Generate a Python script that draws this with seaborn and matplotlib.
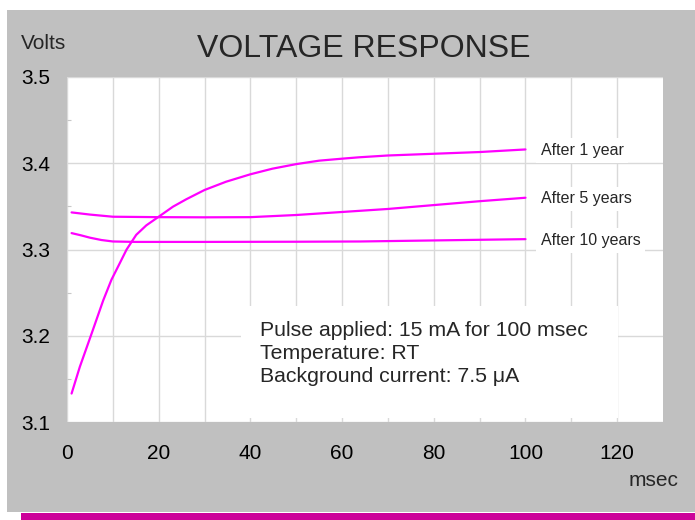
import matplotlib
matplotlib.use("Agg")
import matplotlib.pyplot as plt
import matplotlib.transforms as mtransforms
from matplotlib.patches import Rectangle
from matplotlib.ticker import FixedLocator, FuncFormatter
import numpy as np
import pandas as pd
import seaborn as sns

# ---------------- data ----------------
series_names = ["After 1 year", "After 5 years", "After 10 years"]

x_1yr = [1, 2.8, 5.4, 7.9, 9.7, 11.5, 13.0, 15.1, 17.3, 20, 23.1, 26, 30, 34.7, 40, 44.8,
         50, 55, 60, 63.7, 70, 80, 90, 100]
v_1yr = [3.133, 3.164, 3.203, 3.241, 3.265, 3.284, 3.300, 3.317, 3.328, 3.338, 3.3496, 3.3582,
         3.369, 3.3786, 3.3872, 3.3937, 3.399, 3.403, 3.4053, 3.4069, 3.409, 3.411, 3.413, 3.416]

x_5yr = [1, 5, 10, 20, 30, 40, 50, 60, 70, 80, 90, 100]
v_5yr = [3.343, 3.3405, 3.338, 3.3375, 3.3373, 3.3375, 3.340, 3.3435, 3.347, 3.3515, 3.356, 3.360]

x_10yr = [1, 3, 5, 7.5, 10, 15, 30, 50, 64, 80, 100]
v_10yr = [3.319, 3.3165, 3.3137, 3.311, 3.3093, 3.3088, 3.3088, 3.309, 3.3093, 3.3105, 3.312]

x_ticks = [0, 10, 20, 30, 40, 50, 60, 70, 80, 90, 100, 110, 120]
y_ticks = [3.1, 3.2, 3.3, 3.4, 3.5]
y_minor = [3.15, 3.25, 3.35, 3.45]

title = "VOLTAGE RESPONSE"
y_label = "Volts"
x_label = "msec"
note_lines = ["Pulse applied: 15 mA for 100 msec",
              "Temperature: RT",
              "Background current: 7.5 \u03bcA"]

df = pd.concat([
    pd.DataFrame({"msec": x_1yr, "volts": v_1yr, "series": series_names[0]}),
    pd.DataFrame({"msec": x_5yr, "volts": v_5yr, "series": series_names[1]}),
    pd.DataFrame({"msec": x_10yr, "volts": v_10yr, "series": series_names[2]}),
], ignore_index=True)
last_vals = {series_names[0]: v_1yr[-1], series_names[1]: v_5yr[-1], series_names[2]: v_10yr[-1]}

# ---------------- style ----------------
sns.set_style("white")
plt.rcParams["font.family"] = ["Liberation Sans", "DejaVu Sans"]

W, H = 695, 520
GRAY = "#C0C0C0"
MAGENTA = "#FF00FF"
GRID = "#D9D9D9"

fig = plt.figure(figsize=(W / 100, H / 100), dpi=100, facecolor="white")
fig.add_artist(Rectangle((7 / W, (H - 511.7) / H), 1 - 7 / W, (511.7 - 10) / H,
                         transform=fig.transFigure, fc=GRAY, ec="none", zorder=0))
fig.add_artist(Rectangle((21 / W, 0), 1 - 21 / W, 7.3 / H,
                         transform=fig.transFigure, fc="#CC0099", ec="none", zorder=0))

ax = fig.add_axes([67 / W, (H - 422) / H, (663 - 67) / W, (422 - 77) / H])
ax.set_facecolor("white")
ax.set_axisbelow(True)

sns.lineplot(data=df, x="msec", y="volts", hue="series",
             palette={n: MAGENTA for n in series_names}, legend=False,
             errorbar=None, lw=1.6, ax=ax)
for ln in ax.get_lines():
    ln.set_solid_joinstyle("round")

ax.set_xlim(0, 130)
ax.set_ylim(3.1, 3.5)
ax.set_xlabel("")
ax.set_ylabel("")
for s in ax.spines.values():
    s.set_visible(False)

ax.xaxis.set_major_locator(FixedLocator(x_ticks))
ax.xaxis.set_major_formatter(FuncFormatter(lambda v, p: f"{v:.0f}" if int(round(v)) % 20 == 0 else ""))
ax.yaxis.set_major_locator(FixedLocator(y_ticks))
ax.yaxis.set_major_formatter(FuncFormatter(lambda v, p: f"{v:.1f}"))
ax.yaxis.set_minor_locator(FixedLocator(y_minor))

ax.grid(True, which="major", color=GRID, lw=1.0)
ax.tick_params(which="major", length=0, labelsize=15, labelcolor="black")
ax.tick_params(axis="x", which="major", pad=15.5)
ax.tick_params(axis="y", which="major", pad=12)
ax.tick_params(axis="y", which="minor", direction="in", length=3, width=0.8,
               color="#C8C8C8", left=True)

# series labels
shift = mtransforms.ScaledTranslation(0, -4.1 / 72, fig.dpi_scale_trans)
for n in series_names:
    ax.text(103.3, last_vals[n], n, fontsize=11.5, va="baseline", ha="left",
            transform=ax.transData + shift, zorder=3,
            bbox=dict(boxstyle="square,pad=0.3", fc="white", ec="none"))

# note box
ax.add_patch(Rectangle((38, 3.1046), 82.2, 0.1299, fc="white", ec="none", zorder=1))
for i, line in enumerate(note_lines):
    off = mtransforms.ScaledTranslation(0, -i * 16.4 / 72, fig.dpi_scale_trans)
    ax.text(42.1, 3.1997, line, fontsize=15.3, va="baseline", ha="left",
            transform=ax.transData + off, zorder=3)

# titles
fig.text(363.7 / W, 1 - 56.7 / H, title, fontsize=23, ha="center", va="baseline")
fig.text(21 / W, 1 - 49.3 / H, y_label, fontsize=15, ha="left", va="baseline")
fig.text(628.3 / W, 1 - 486 / H, x_label, fontsize=15, ha="left", va="baseline")

fig.savefig("out.png", dpi=100, facecolor="white")
